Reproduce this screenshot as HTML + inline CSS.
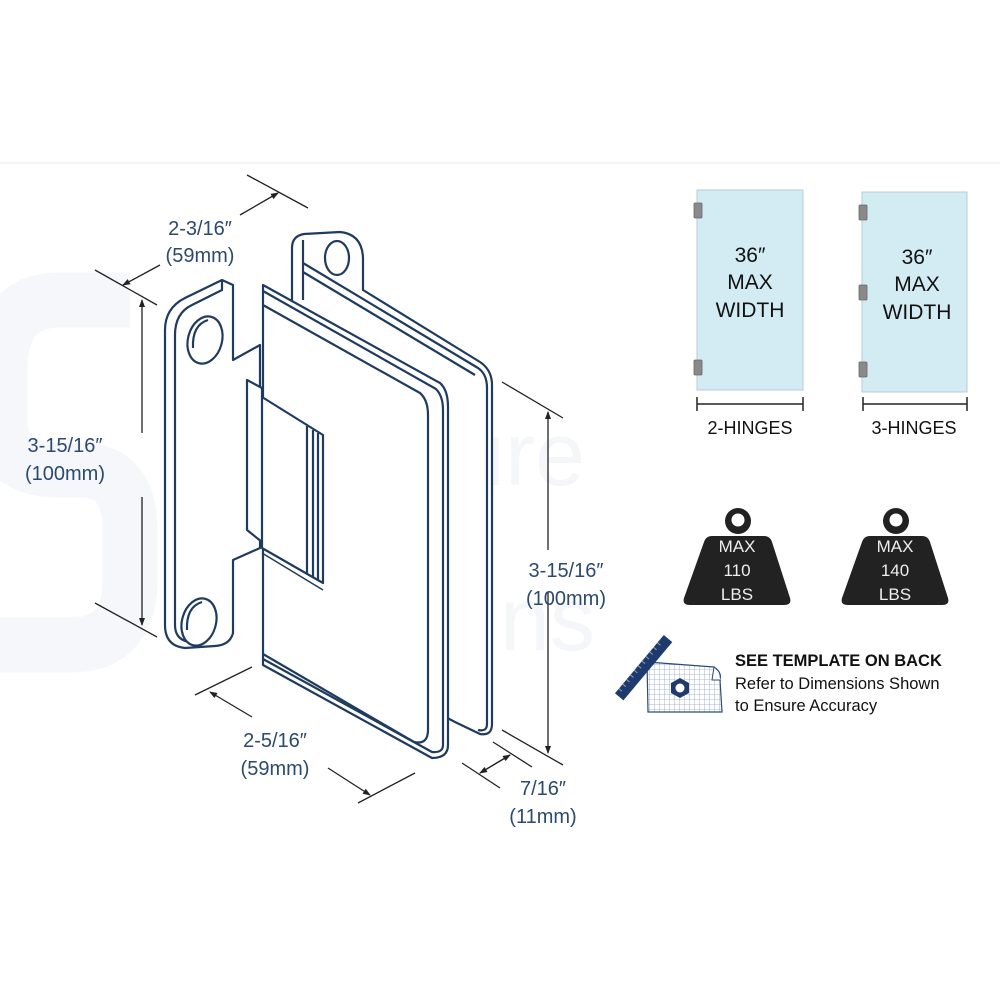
<!DOCTYPE html>
<html><head><meta charset="utf-8"><style>
html,body{margin:0;padding:0;background:#fff}
svg{display:block}
text{font-family:"Liberation Sans",sans-serif}
</style></head><body>
<svg width="1000" height="1000" viewBox="0 0 1000 1000" xmlns="http://www.w3.org/2000/svg">
<defs>
<marker id="ar" markerWidth="8" markerHeight="8" refX="7" refY="4" orient="auto" markerUnits="userSpaceOnUse"><path d="M0,1 L8,4 L0,7 Z" fill="#222"/></marker>
<pattern id="grid" width="5" height="5" patternUnits="userSpaceOnUse"><rect width="5" height="5" fill="#fff"/><path d="M5,0 V5 M0,5 H5" stroke="#8fa3c8" stroke-width="0.8"/></pattern>
</defs>
<line x1="0" y1="163" x2="1000" y2="163" stroke="#f0f0f0" stroke-width="1.5"/>
<!-- watermark -->
<path d="M130,300 H60 Q0,300 0,370 V420 Q0,470 60,470 H80 Q130,470 130,530 V580 Q130,645 70,645 H0" fill="none" stroke="#f5f7fb" stroke-width="55"/>
<text x="455" y="485" font-size="90" fill="#f4f6fa">ure</text>
<text x="500" y="650" font-size="90" fill="#f4f6fa">ns</text>

<g fill="#fff" stroke="#1f3b5e" stroke-width="2.2" stroke-linejoin="round">
<!-- back plate -->
<path d="M292,300 V248 Q292,236 304,234 L340,232 Q362,234 363,258 V290 L480,362 Q492,370 492,385 V724 Q492,736 480,734 L455,722 L300,640 Z"/>
<ellipse cx="337" cy="258" rx="12" ry="17" fill="#fff"/>
<path d="M303,240 V300" fill="none"/>
<path d="M303,263 L478,368 Q487,374 487,388 V724 Q487,732 478,730" fill="none"/>
<path d="M303,272 L475,375" fill="none"/>
<!-- wall plate -->
<path d="M165,330 Q165,308 185,298 L222,280 L233,285 V360 L260,345 V548 L233,560 V633 Q230,645 215,646 L185,648 Q165,646 165,625 Z"/>
<path d="M175,335 Q175,313 192,305 L222,290 L222,280 M175,335 V625 Q175,640 190,642" fill="none"/>
<ellipse cx="205" cy="340" rx="17" ry="24" transform="rotate(15 205 340)"/>
<path d="M193,348 Q192,325 208,320" fill="none"/>
<ellipse cx="199" cy="622" rx="17" ry="24" transform="rotate(15 199 622)"/>
<path d="M187,630 Q186,607 202,602" fill="none"/>
<!-- front clamp plate -->
<path d="M263,285 L440,383 Q448,390 448,407 V745 Q448,758 432,758 L263,665 Z"/>
<path d="M263,291 L436,389 Q443,396 443,410 V745 Q443,753 432,752 L263,659" fill="none"/>
<path d="M263,305 L420,393 Q428,400 428,415 V730 Q428,745 414,742 L263,654" fill="none"/>
<!-- hinge body -->
<path d="M247,380 L262,388 V397 L323,435 V583 L262,548 V542 L247,530 Z"/>
<path d="M262,397 V542 M307,426 V573 M313,430 V577 M318,433 V580" fill="none"/>
<path d="M262,553 L323,590" fill="none" stroke-width="1.5"/>
</g>

<!-- dimension lines -->
<g stroke="#222" stroke-width="1.3" fill="none">
<line x1="247" y1="175" x2="308" y2="208"/>
<line x1="95" y1="270" x2="157" y2="305"/>
<line x1="160" y1="265" x2="123" y2="285" marker-end="url(#ar)"/>
<line x1="240" y1="215" x2="278" y2="193" marker-end="url(#ar)"/>
<line x1="142" y1="433" x2="142" y2="300" marker-end="url(#ar)"/>
<line x1="142" y1="497" x2="142" y2="625" marker-end="url(#ar)"/>
<line x1="95" y1="603" x2="157" y2="637"/>
<line x1="502" y1="382" x2="563" y2="418"/>
<line x1="548" y1="550" x2="548" y2="412" marker-end="url(#ar)"/>
<line x1="548" y1="592" x2="548" y2="753" marker-end="url(#ar)"/>
<line x1="502" y1="730" x2="563" y2="765"/>
<line x1="195" y1="695" x2="252" y2="667"/>
<line x1="252" y1="717" x2="210" y2="692" marker-end="url(#ar)"/>
<line x1="328" y1="768" x2="370" y2="795" marker-end="url(#ar)"/>
<line x1="358" y1="803" x2="415" y2="773"/>
<line x1="462" y1="763" x2="500" y2="788"/>
<line x1="493" y1="742" x2="532" y2="767"/>
<line x1="510" y1="755" x2="480" y2="773" marker-end="url(#ar)"/>
<line x1="480" y1="773" x2="510" y2="755" marker-end="url(#ar)"/>
</g>
<g font-size="20" fill="#2b4a6e" text-anchor="middle">
<text x="200" y="235">2-3/16″</text><text x="200" y="262">(59mm)</text>
<text x="65" y="452">3-15/16″</text><text x="65" y="480">(100mm)</text>
<text x="566" y="577">3-15/16″</text><text x="566" y="605">(100mm)</text>
<text x="275" y="747">2-5/16″</text><text x="275" y="775">(59mm)</text>
<text x="543" y="795">7/16″</text><text x="543" y="823">(11mm)</text>
</g>

<!-- glass panels -->
<rect x="697" y="190" width="106" height="200" fill="#d3ecf3" stroke="#b8ccd4" stroke-width="1"/>
<rect x="862" y="192" width="105" height="200" fill="#d3ecf3" stroke="#b8ccd4" stroke-width="1"/>
<g fill="#8a8a8a" stroke="#666" stroke-width="0.8">
<rect x="694" y="203" width="8" height="15" rx="1"/><rect x="694" y="360" width="8" height="15" rx="1"/>
<rect x="859" y="205" width="8" height="15" rx="1"/><rect x="859" y="285" width="8" height="15" rx="1"/><rect x="859" y="362" width="8" height="15" rx="1"/>
</g>
<g font-size="21" fill="#111" text-anchor="middle">
<text x="750" y="262">36″</text><text x="750" y="289">MAX</text><text x="750" y="317">WIDTH</text>
<text x="917" y="264">36″</text><text x="917" y="291">MAX</text><text x="917" y="319">WIDTH</text>
<text x="750" y="434" font-size="18">2-HINGES</text><text x="914" y="434" font-size="18">3-HINGES</text>
</g>
<g stroke="#222" stroke-width="1.5">
<line x1="697" y1="404" x2="803" y2="404"/><line x1="697" y1="397" x2="697" y2="411"/><line x1="803" y1="397" x2="803" y2="411"/>
<line x1="863" y1="404" x2="967" y2="404"/><line x1="863" y1="397" x2="863" y2="411"/><line x1="967" y1="397" x2="967" y2="411"/>
</g>

<!-- weights -->
<g fill="#222">
<circle cx="738" cy="521" r="13"/><path d="M712,536 H764 Q770,536 772,542 L790,598 Q792,605 784,605 H690 Q682,605 684,598 L704,542 Q706,536 712,536 Z"/>
<circle cx="896" cy="521" r="13"/><path d="M870,536 H922 Q928,536 930,542 L948,598 Q950,605 942,605 H848 Q840,605 842,598 L862,542 Q864,536 870,536 Z"/>
</g>
<circle cx="738" cy="520" r="6.5" fill="#fff"/><circle cx="896" cy="520" r="6.5" fill="#fff"/>
<g font-size="17" fill="#eee" text-anchor="middle">
<text x="737" y="552">MAX</text><text x="737" y="576">110</text><text x="737" y="600">LBS</text>
<text x="895" y="552">MAX</text><text x="895" y="576">140</text><text x="895" y="600">LBS</text>
</g>

<!-- template icon -->
<path d="M647,662 L714,667 Q722,672 720,680 L722,712 L648,712 Z" fill="url(#grid)" stroke="#2c4a7a" stroke-width="1.2"/>
<path d="M714,667 L712,680 L721,680" fill="#fff" stroke="#2c4a7a" stroke-width="1"/>
<polygon points="680,678 689,683 689,693 680,698 671,693 671,683" fill="#1f3b6e"/>
<circle cx="680" cy="688" r="4.5" fill="#fff"/>
<g transform="rotate(-50 644 668)"><rect x="606" y="662" width="76" height="11" fill="#1f3b6e"/>
<path d="M612,662 v4 M618,662 v4 M624,662 v4 M630,662 v4 M636,662 v4 M642,662 v4 M648,662 v4 M654,662 v4 M660,662 v4 M666,662 v4 M672,662 v4" stroke="#8fa3c8" stroke-width="1"/></g>
<text x="735" y="666" font-size="16.5" font-weight="bold" fill="#111">SEE TEMPLATE ON BACK</text>
<text x="735" y="689" font-size="16.5" fill="#111">Refer to Dimensions Shown</text>
<text x="735" y="711" font-size="16.5" fill="#111">to Ensure Accuracy</text>
</svg>
</body></html>
